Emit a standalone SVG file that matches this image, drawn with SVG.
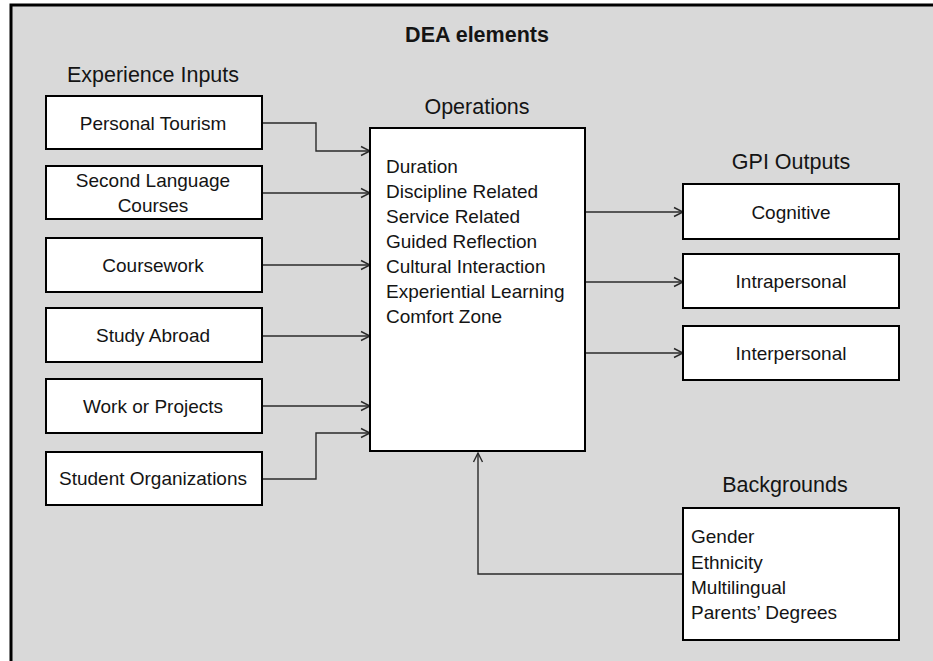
<svg xmlns="http://www.w3.org/2000/svg" width="933" height="661" viewBox="0 0 933 661">
  <style>
    .box { fill: #ffffff; stroke: #000000; stroke-width: 2; }
    .t { font-family: "Liberation Sans", Arial, sans-serif; font-size: 19px; fill: #141414; }
    .c { text-anchor: middle; }
    .h { font-family: "Liberation Sans", Arial, sans-serif; font-size: 21.5px; fill: #141414; text-anchor: middle; }
    .conn { fill: none; stroke: #2a2a2a; stroke-width: 1.4; marker-end: url(#arr); }
  </style>
  <defs>
    <marker id="arr" viewBox="-10 -6 12 12" refX="0" refY="0" markerWidth="12" markerHeight="12" markerUnits="userSpaceOnUse" orient="auto">
      <path d="M-9,-4.5 L0,0 L-9,4.5" fill="none" stroke="#2a2a2a" stroke-width="1.4"/>
    </marker>
  </defs>
  <rect x="0" y="0" width="933" height="661" fill="#ffffff"/>
  <rect x="11" y="5" width="940" height="680" fill="#d9d9d9" stroke="#000000" stroke-width="3"/>

  <text x="477" y="42" class="h" font-weight="bold" font-size="20.5">DEA elements</text>
  <text x="153" y="82" class="h">Experience Inputs</text>
  <text x="477" y="114" class="h">Operations</text>
  <text x="791" y="169" class="h">GPI Outputs</text>
  <text x="785" y="492" class="h">Backgrounds</text>

  <g id="connectors">
    <path class="conn" d="M262,123 H316 V151 H370"/>
    <path class="conn" d="M262,193 H370"/>
    <path class="conn" d="M262,265 H370"/>
    <path class="conn" d="M262,336 H370"/>
    <path class="conn" d="M262,406 H370"/>
    <path class="conn" d="M262,479 H316 V433 H370"/>
    <path class="conn" d="M585,212 H683"/>
    <path class="conn" d="M585,282 H683"/>
    <path class="conn" d="M585,353 H683"/>
    <path class="conn" d="M683,574 H478 V453"/>
  </g>

  <g id="personal-tourism">
    <rect class="box" x="46" y="96" width="216" height="53"/>
    <text class="t c" x="153" y="130">Personal Tourism</text>
  </g>
  <g id="second-language">
    <rect class="box" x="46" y="166" width="216" height="53"/>
    <text class="t c" x="153" y="187">Second Language</text>
    <text class="t c" x="153" y="212">Courses</text>
  </g>
  <g id="coursework">
    <rect class="box" x="46" y="238" width="216" height="54"/>
    <text class="t c" x="153" y="272">Coursework</text>
  </g>
  <g id="study-abroad">
    <rect class="box" x="46" y="308" width="216" height="54"/>
    <text class="t c" x="153" y="342">Study Abroad</text>
  </g>
  <g id="work-projects">
    <rect class="box" x="46" y="379" width="216" height="54"/>
    <text class="t c" x="153" y="413">Work or Projects</text>
  </g>
  <g id="student-orgs">
    <rect class="box" x="46" y="452" width="216" height="53"/>
    <text class="t c" x="153" y="485">Student Organizations</text>
  </g>

  <g id="operations">
    <rect class="box" x="370" y="128" width="215" height="323"/>
    <text class="t" x="386" y="173">Duration</text>
    <text class="t" x="386" y="198">Discipline Related</text>
    <text class="t" x="386" y="223">Service Related</text>
    <text class="t" x="386" y="248">Guided Reflection</text>
    <text class="t" x="386" y="273">Cultural Interaction</text>
    <text class="t" x="386" y="298">Experiential Learning</text>
    <text class="t" x="386" y="323">Comfort Zone</text>
  </g>

  <g id="cognitive">
    <rect class="box" x="683" y="184" width="216" height="55"/>
    <text class="t c" x="791" y="219">Cognitive</text>
  </g>
  <g id="intrapersonal">
    <rect class="box" x="683" y="254" width="216" height="54"/>
    <text class="t c" x="791" y="288">Intrapersonal</text>
  </g>
  <g id="interpersonal">
    <rect class="box" x="683" y="326" width="216" height="54"/>
    <text class="t c" x="791" y="360">Interpersonal</text>
  </g>

  <g id="backgrounds">
    <rect class="box" x="683" y="508" width="216" height="132"/>
    <text class="t" x="691" y="543">Gender</text>
    <text class="t" x="691" y="569">Ethnicity</text>
    <text class="t" x="691" y="594">Multilingual</text>
    <text class="t" x="691" y="619">Parents’ Degrees</text>
  </g>
</svg>
